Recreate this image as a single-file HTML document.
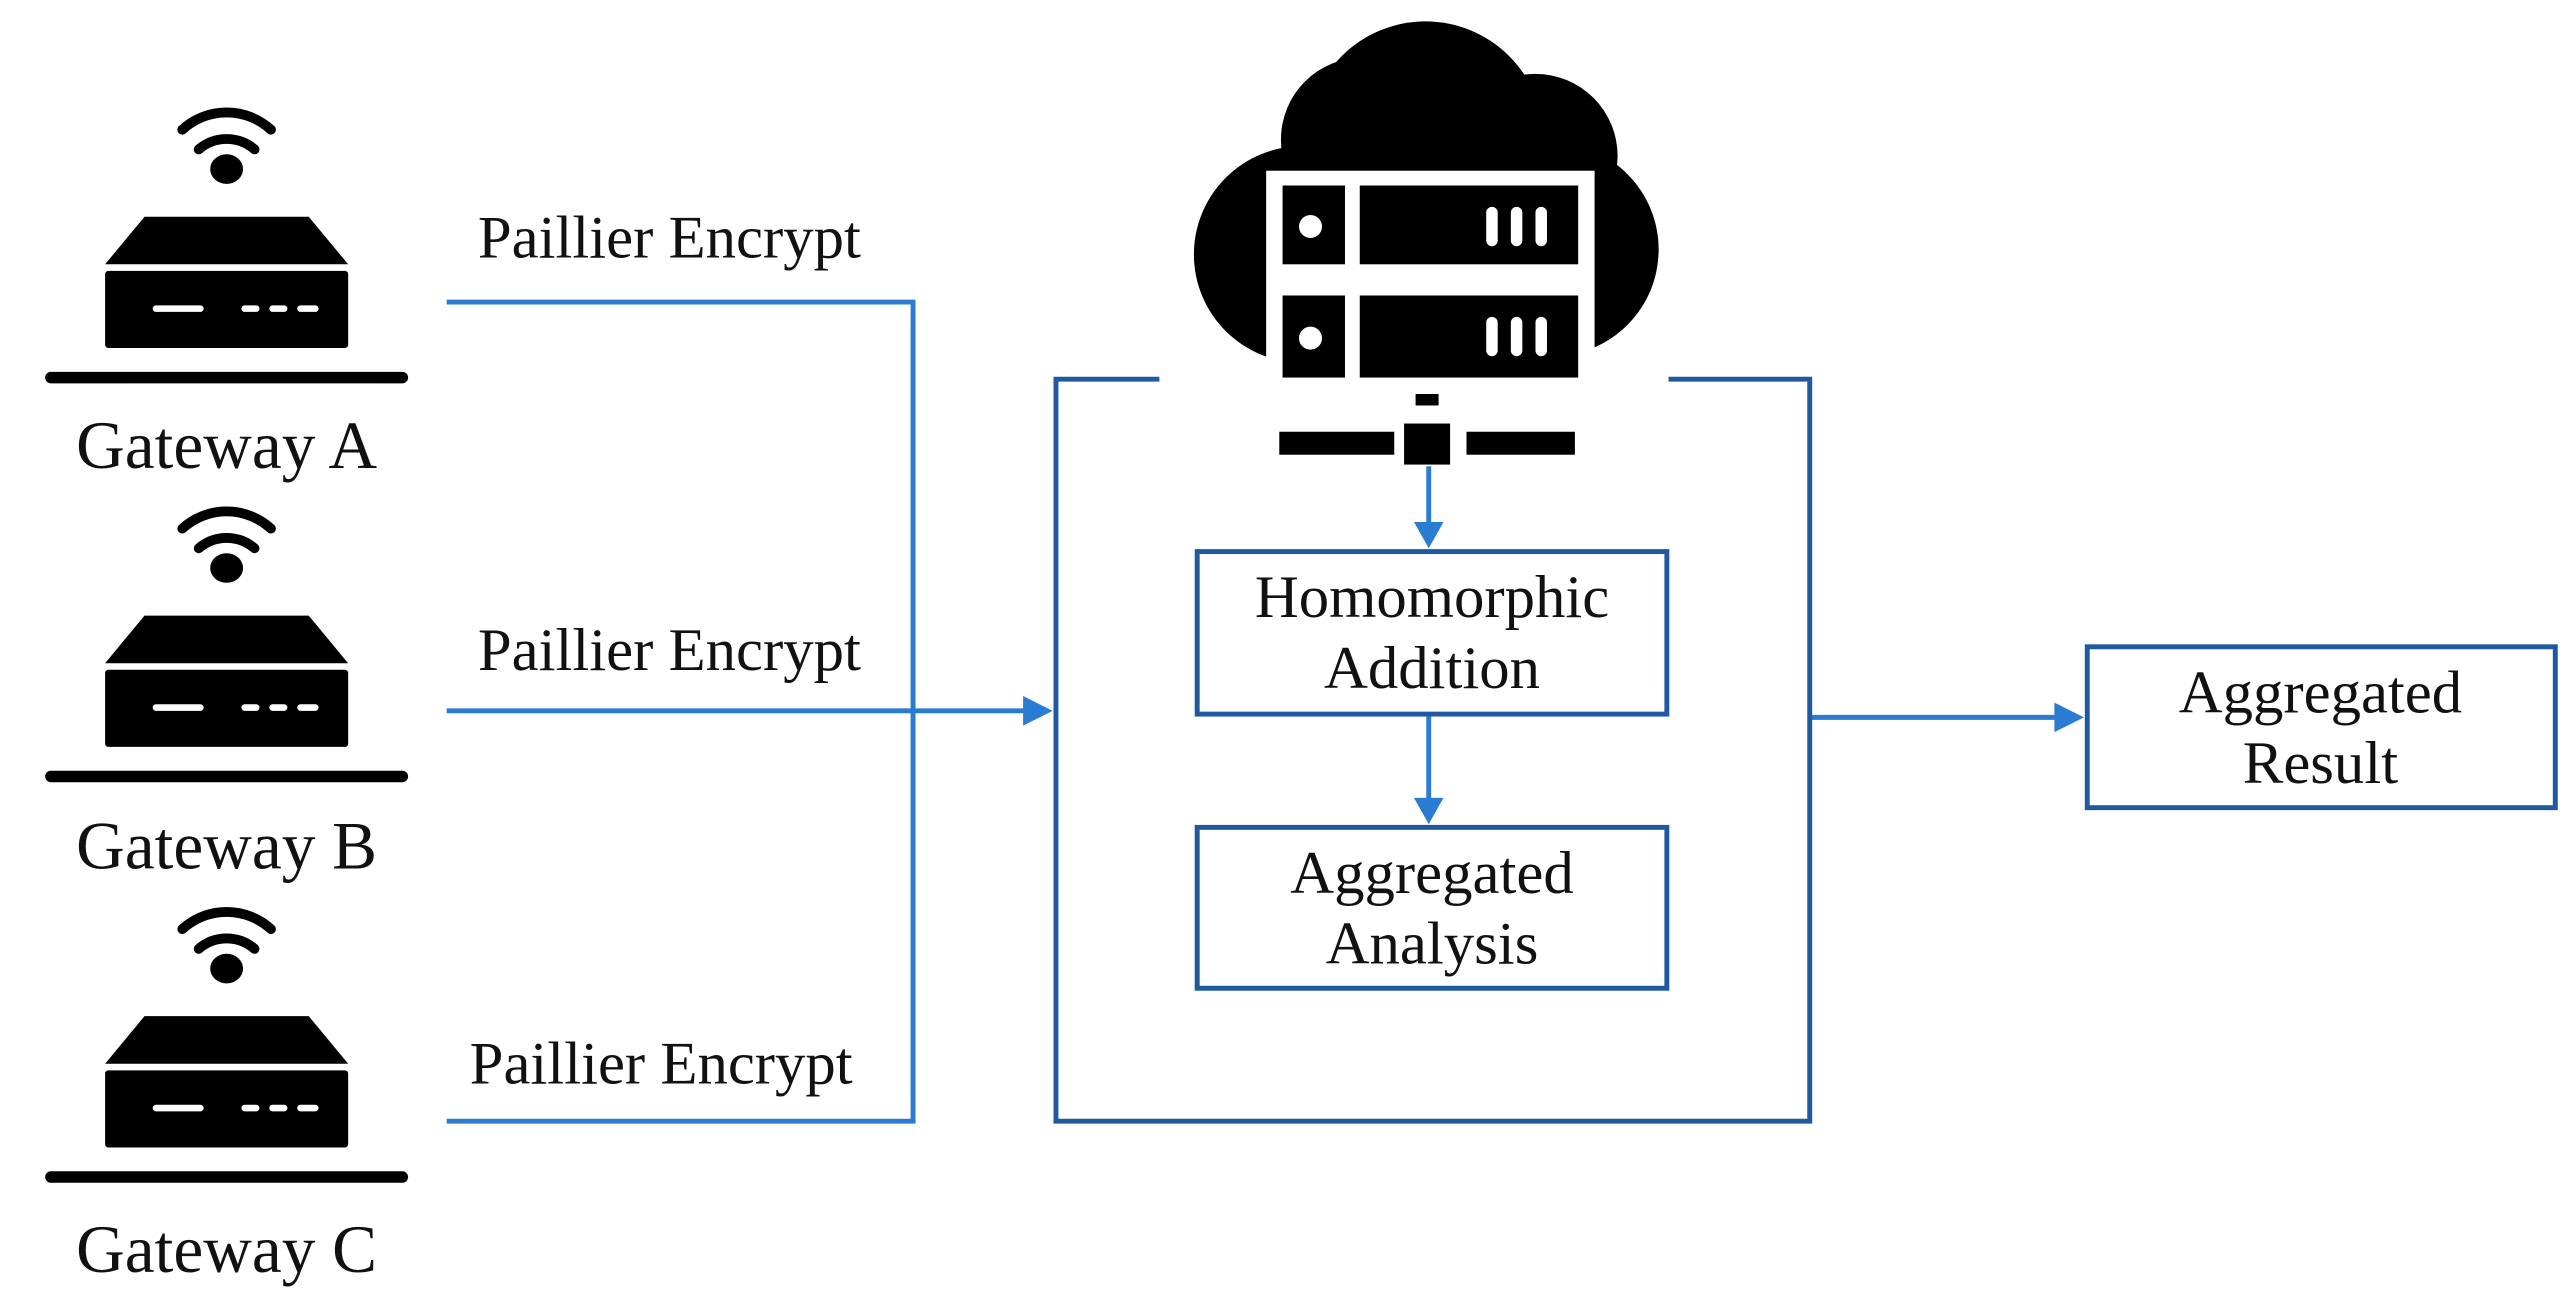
<!DOCTYPE html>
<html><head><meta charset="utf-8"><style>
html,body{margin:0;padding:0;background:#fff;}
svg{display:block;}
text{font-family:"Liberation Serif",serif;fill:#111;}
</style></head><body>
<svg width="2575" height="1310" viewBox="0 0 1568 798" preserveAspectRatio="none">
<defs>
<g id="gw">
  <path d="M111,79 A40,40 0 0 1 165,79" fill="none" stroke="#000" stroke-width="6" stroke-linecap="round"/>
  <path d="M121,91 A26,26 0 0 1 155,91" fill="none" stroke="#000" stroke-width="6" stroke-linecap="round"/>
  <ellipse cx="138" cy="103" rx="10" ry="9" fill="#000"/>
  <polygon points="88,132 188,132 212,161 64,161" fill="#000"/>
  <rect x="64" y="165" width="148" height="47" rx="2" fill="#000"/>
  <line x1="95" y1="188" x2="122" y2="188" stroke="#fff" stroke-width="4" stroke-linecap="round"/>
  <line x1="149" y1="188" x2="156" y2="188" stroke="#fff" stroke-width="4" stroke-linecap="round"/>
  <line x1="166" y1="188" x2="173" y2="188" stroke="#fff" stroke-width="4" stroke-linecap="round"/>
  <line x1="183" y1="188" x2="192" y2="188" stroke="#fff" stroke-width="4" stroke-linecap="round"/>
  <line x1="31" y1="230" x2="245" y2="230" stroke="#000" stroke-width="7" stroke-linecap="round"/>
</g>
</defs>
<use href="#gw"/>
<use href="#gw" y="243"/>
<use href="#gw" y="487"/>
<g font-size="41" text-anchor="middle">
<text x="138" y="285">Gateway A</text>
<text x="138" y="529">Gateway B</text>
<text x="138" y="775">Gateway C</text>
</g>
<g font-size="37">
<text x="291" y="157">Paillier Encrypt</text>
<text x="291" y="408">Paillier Encrypt</text>
<text x="286" y="660">Paillier Encrypt</text>
</g>
<g stroke="#2a7bd2" stroke-width="3" fill="none">
<polyline points="272,184 556,184 556,683 272,683"/>
<line x1="272" y1="433" x2="626" y2="433"/>
<line x1="870" y1="284" x2="870" y2="320"/>
<line x1="870" y1="436" x2="870" y2="488"/>
<line x1="1103" y1="437" x2="1254" y2="437"/>
</g>
<g fill="#2a7bd2">
<polygon points="623,424 641,433 623,442"/>
<polygon points="861,318 870,334 879,318"/>
<polygon points="861,486 870,502 879,486"/>
<polygon points="1251,428 1269,437 1251,446"/>
</g>
<g stroke="#1f5aa0" stroke-width="3" fill="none">
<polyline points="706,231 643,231 643,683 1102,683 1102,231 1016,231"/>
<rect x="729" y="336" width="286" height="99"/>
<rect x="729" y="504" width="286" height="98"/>
<rect x="1271" y="394" width="285" height="98"/>
</g>
<g font-size="37" text-anchor="middle">
<text x="872" y="376">Homomorphic</text>
<text x="872" y="419">Addition</text>
<text x="872" y="544">Aggregated</text>
<text x="872" y="587">Analysis</text>
<text x="1413" y="434">Aggregated</text>
<text x="1413" y="477">Result</text>
</g>
<!-- cloud -->
<g fill="#000">
<circle cx="868" cy="85" r="72"/>
<circle cx="793" cy="155" r="66"/>
<circle cx="945" cy="152" r="65"/>
<circle cx="830" cy="85" r="50"/>
<circle cx="935" cy="95" r="50"/>
</g>
<rect x="771" y="104" width="200" height="140" fill="#fff"/>
<g fill="#000">
<rect x="781" y="113" width="38" height="48"/>
<rect x="828" y="113" width="133" height="48"/>
<rect x="781" y="180" width="38" height="50"/>
<rect x="828" y="180" width="133" height="50"/>
<rect x="862" y="240" width="14" height="7"/>
<rect x="855" y="258" width="28" height="25"/>
<rect x="779" y="263" width="70" height="14"/>
<rect x="893" y="263" width="66" height="14"/>
</g>
<g fill="#fff">
<circle cx="798" cy="138" r="7"/>
<circle cx="798" cy="206" r="7"/>
<rect x="905" y="126" width="7" height="24" rx="3.5"/>
<rect x="920" y="126" width="7" height="24" rx="3.5"/>
<rect x="935" y="126" width="7" height="24" rx="3.5"/>
<rect x="905" y="193" width="7" height="24" rx="3.5"/>
<rect x="920" y="193" width="7" height="24" rx="3.5"/>
<rect x="935" y="193" width="7" height="24" rx="3.5"/>
</g>
</svg>
</body></html>
